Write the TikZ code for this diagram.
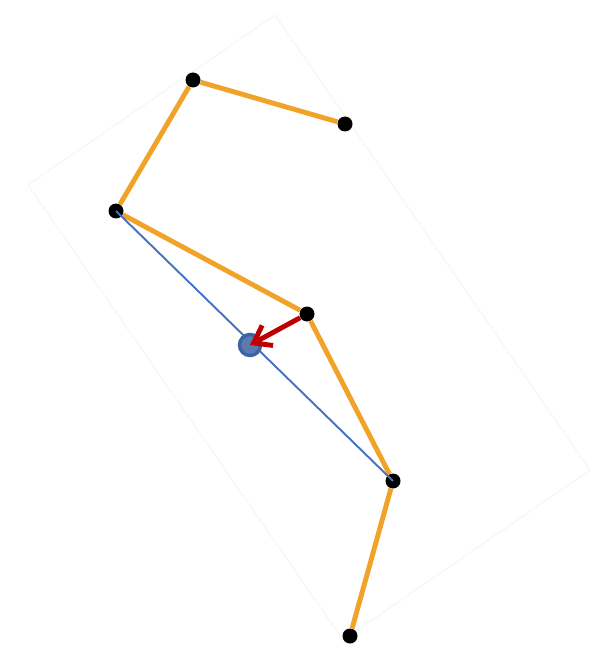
\documentclass[tikz,border=0pt]{standalone}
\usepackage{tikz}
\usetikzlibrary{arrows.meta}
\definecolor{limb}{RGB}{240,163,40}
\definecolor{axisblue}{RGB}{70,114,196}
\definecolor{comblue}{RGB}{60,100,165}
\definecolor{pullred}{RGB}{192,0,0}
\tikzset{
  joint/.style={circle,fill=black,inner sep=0pt,minimum size=0.3cm},
  com/.style={circle,fill=comblue!85!white,draw=comblue,line width=2pt,inner sep=0pt,minimum size=0.42cm},
  limbline/.style={limb,line width=2.8pt},
}

\begin{document}
\begin{tikzpicture}[x=0.02cm,y=-0.02cm,>=Stealth]
      \useasboundingbox (0,0) rectangle (592,645);
      % faint frame behind the figure
      \draw[black!3,line width=0.8pt] (28,185) -- (275,15) -- (590,470) -- (343,640) -- cycle;
      \node[joint] (hand) at (345,124) {};
      \node[joint] (elbow) at (193,80) {};
      \node[joint] (shoulder) at (116,211) {};
      \node[joint] (hip) at (307,314) {};
      \node[joint] (knee) at (393,481) {};
      \node[joint] (foot) at (350,636) {};
      \draw[limbline] (hand) -- (elbow);
      \draw[limbline] (elbow) -- (shoulder);
      \draw[limbline] (shoulder) -- (hip);
      \draw[limbline] (hip) -- (knee);
      \draw[limbline] (knee) -- (foot);
      \draw[axisblue,line width=1.1pt] (shoulder.center) -- (knee.center);
      \node[com] (mass) at (250,345) {};
      \draw[pullred,line width=2.8pt,-{Straight Barb[length=9pt,width=13pt]}] (hip) -- (mass.center);
    \end{tikzpicture}
\end{document}
